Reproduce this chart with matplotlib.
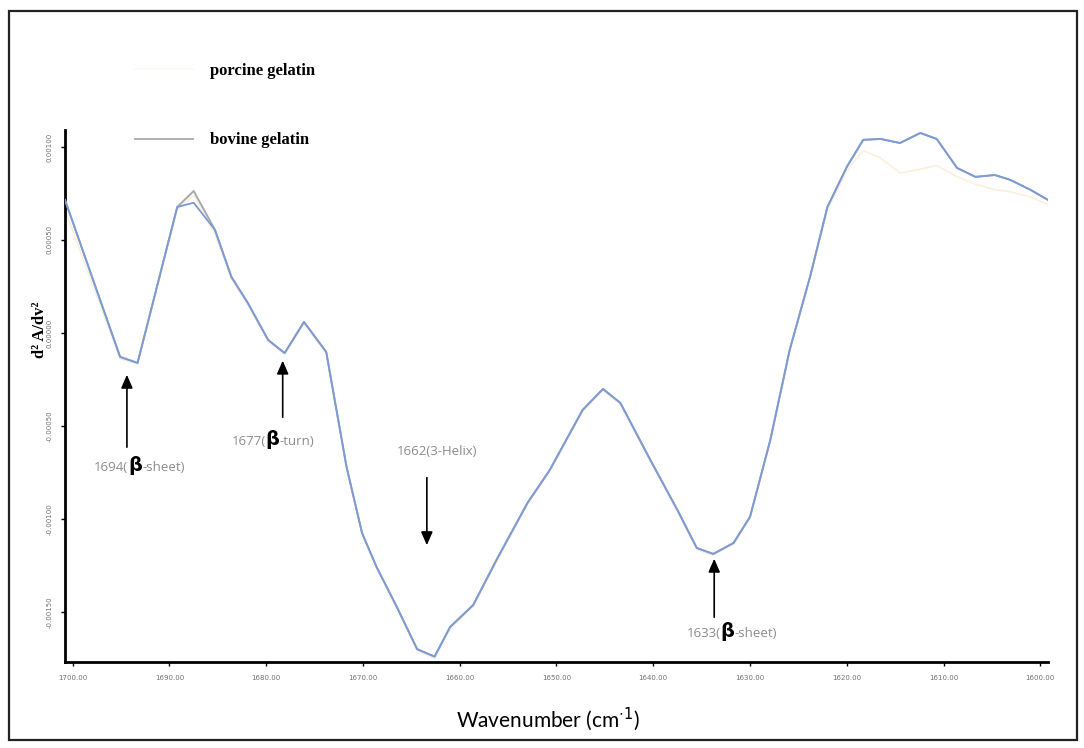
import numpy as np
import matplotlib
matplotlib.use("Agg")
import matplotlib.pyplot as plt
from matplotlib.lines import Line2D
from matplotlib.patches import Rectangle
from matplotlib.offsetbox import TextArea, HPacker, AnnotationBbox

# second derivative spectrum, amide I region (values x 1e-5)
wavenumber = [1700.8, 1695.1, 1693.3, 1689.2, 1687.5, 1685.3, 1683.6, 1681.9,
              1679.8, 1678.1, 1676.1, 1673.8, 1671.7, 1670.1, 1668.6, 1666.5,
              1664.4, 1662.6, 1661.0, 1658.6, 1656.2, 1653.0, 1650.7, 1647.3,
              1645.2, 1643.4, 1640.3, 1637.5, 1635.5, 1633.8, 1631.7, 1630.0,
              1627.9, 1625.9, 1623.8, 1622.0, 1620.0, 1618.3, 1616.5, 1614.5,
              1612.4, 1610.7, 1608.6, 1606.7, 1604.7, 1603.1, 1601.0, 1599.2]
spectrum = [71.5, -12.9, -16.1, 67.7, 70.0, 55.4, 30.1, 16.1,
            -3.8, -10.8, 5.9, -10.2, -72.0, -107.5, -125.8, -147.3,
            -170.0, -174.0, -158.1, -146.2, -122.0, -91.4, -73.7, -41.4,
            -30.1, -37.6, -68.3, -95.2, -115.6, -118.8, -112.9, -98.9,
            -57.5, -9.1, 30.1, 67.7, 89.2, 103.8, 104.3, 102.1,
            107.5, 104.3, 88.7, 83.9, 84.9, 82.3, 76.9, 71.5]
bovine = [71.5, -12.9, -16.1, 67.7, 76.3, 55.4, 30.1, 16.1,
          -3.8, -10.8, 5.9, -10.2, -72.0, -107.5, -125.8, -147.3,
          -170.0, -174.0, -158.1, -146.2, -122.0, -91.4, -73.7, -41.4,
          -30.1, -37.6, -68.3, -95.2, -115.6, -118.8, -112.9, -98.9,
          -57.5, -9.1, 30.1, 67.7, 89.2, 103.8, 104.3, 102.1,
          107.5, 104.3, 88.7, 83.9, 84.9, 82.3, 76.9, 71.5]
porcine = [66.0, -14.0, -16.5, 66.0, 74.0, 53.0, 29.0, 15.0,
           -4.5, -11.5, 5.0, -11.0, -73.0, -108.0, -126.5, -148.0,
           -171.0, -175.0, -159.0, -147.0, -123.0, -92.0, -74.5, -42.0,
           -31.0, -38.5, -69.0, -96.0, -116.5, -119.5, -113.5, -99.5,
           -58.5, -10.0, 29.0, 66.0, 87.0, 98.0, 94.0, 86.0,
           88.0, 90.0, 84.0, 80.0, 77.0, 76.0, 73.0, 69.0]

x_ticks = [1700, 1690, 1680, 1670, 1660, 1650, 1640, 1630, 1620, 1610, 1600]
y_ticks = [0.0010, 0.0005, 0.0, -0.0005, -0.0010, -0.0015]

# peak assignments: label, arrow x, arrow tip y, arrow tail y, text x, text y
bands = [
    ("1694(", "-sheet)", 1694.4, -2.10e-4, -6.29e-4, 1693.1, -7.10e-4),
    ("1677(", "-turn)", 1678.3, -1.34e-4, -4.68e-4, 1679.3, -5.75e-4),
    ("1633(", "-sheet)", 1633.7, -1.199e-3, -1.543e-3, 1631.9, -1.607e-3),
]
helix_label = "1662(3-Helix)"

wn = np.array(wavenumber)
scale = 1e-5

fig = plt.figure(figsize=(10.84, 7.48), dpi=100)
ax = fig.add_axes([65 / 1084, 1 - 662 / 748, (1048 - 65) / 1084, (662 - 130) / 748])

ax.plot(wn, np.array(porcine) * scale, color="#fbf0de", lw=1.2, zorder=2)
ax.plot(wn, np.array(bovine) * scale, color="#a8a8a8", lw=1.4, zorder=3)
ax.plot(wn, np.array(spectrum) * scale, color="#7a9bd8", lw=1.3, zorder=4)

ax.set_xlim(1700.8, 1599.2)
ax.set_ylim(-0.001769, 0.001091)
ax.set_xticks(x_ticks)
ax.set_xticklabels(["%.2f" % t for t in x_ticks], fontsize=5, color="#707070")
ax.set_yticks(y_ticks)
ax.set_yticklabels(["%.5f" % t for t in y_ticks], fontsize=5, color="#707070",
                   rotation=90, va="center")
ax.tick_params(length=3, width=1, pad=6)
for side in ["top", "right"]:
    ax.spines[side].set_visible(False)
for side in ["left", "bottom"]:
    ax.spines[side].set_linewidth(2)

grey = "#8c8c8c"
for left, right, xa, tip, tail, xt, yt in bands:
    ax.annotate("", xy=(xa, tip), xytext=(xa, tail),
                arrowprops=dict(arrowstyle="-|>,head_length=0.8,head_width=0.35",
                                color="black", lw=1.2))
    parts = HPacker(children=[
        TextArea(left, textprops=dict(color=grey, fontsize=9.5, family="Open Sans")),
        TextArea("β", textprops=dict(color="black", fontsize=14, fontweight="bold",
                                     family="DejaVu Sans")),
        TextArea(right, textprops=dict(color=grey, fontsize=9.5, family="Open Sans")),
    ], align="baseline", pad=0, sep=0)
    ax.add_artist(AnnotationBbox(parts, (xt, yt), frameon=False, box_alignment=(0.5, 0.5)))

ax.annotate("", xy=(1663.4, -1.156e-3), xytext=(1663.4, -7.63e-4),
            arrowprops=dict(arrowstyle="-|>,head_length=0.8,head_width=0.35",
                            color="black", lw=1.2))
ax.text(1662.3, -6.40e-4, helix_label, color=grey, fontsize=9.5,
        family="Open Sans", ha="center", va="center")

# legend above the plot
handles = [Line2D([], [], color="#fdf8f0", lw=1.2),
           Line2D([], [], color="#a8a8a8", lw=1.3)]
fig.legend(handles, ["porcine gelatin", "bovine gelatin"], loc="upper left",
           bbox_to_anchor=(135 / 1084, 1 - 63 / 748), frameon=False,
           prop=dict(family="Liberation Serif", weight="bold", size=12),
           handlelength=3.5, handletextpad=1.0, labelspacing=3.2,
           borderpad=0, borderaxespad=0)

fig.text(40 / 1084, 1 - 330 / 748, "d² A/dv²", rotation=90, ha="center", va="center",
         family="Liberation Serif", fontweight="bold", fontsize=12)
fig.text(548 / 1084, 1 - 719 / 748, "Wavenumber (cm$^{\\cdot1}$)", ha="center", va="center",
         family="Lato", fontsize=15)

fig.patches.append(Rectangle((9 / 1084, 1 - 740 / 748), (1077 - 9) / 1084, (740 - 11) / 748,
                             transform=fig.transFigure, fill=False, lw=1.6,
                             edgecolor="#222222"))

fig.savefig("out.png", dpi=100)
